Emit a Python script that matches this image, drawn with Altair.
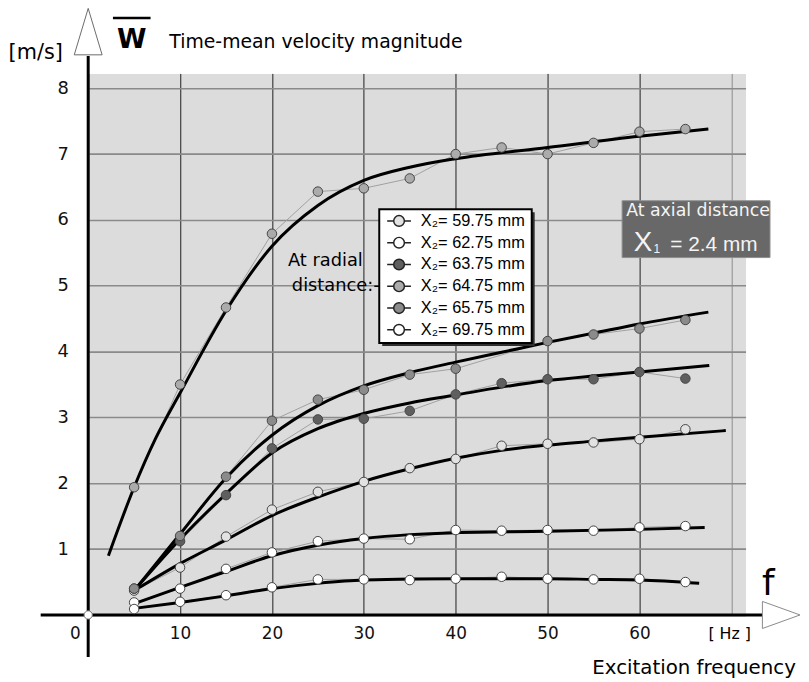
import altair as alt
import pandas as pd

# ---------------- data ----------------
FREQ = [5, 10, 15, 20, 25, 30, 35, 40, 45, 50, 55, 60, 65]

LABELS = ["X₂= 59.75 mm", "X₂= 62.75 mm", "X₂= 63.75 mm",
          "X₂= 64.75 mm", "X₂= 65.75 mm", "X₂= 69.75 mm"]
FILLS = ["#e2e2e2", "#ffffff", "#5f5f5f", "#ababab", "#8b8b8b", "#ffffff"]

W_5975 = [0.37, 0.72, 1.19, 1.60, 1.87, 2.02, 2.23, 2.37, 2.57, 2.60, 2.62, 2.67, 2.82]
W_6275 = [0.19, 0.40, 0.70, 0.95, 1.12, 1.16, 1.15, 1.29, 1.28, 1.29, 1.28, 1.33, 1.35]
W_6375 = [0.40, 1.12, 1.82, 2.53, 2.97, 2.98, 3.10, 3.35, 3.52, 3.58, 3.58, 3.69, 3.59]
W_6475 = [1.94, 3.50, 4.67, 5.79, 6.43, 6.48, 6.63, 7.00, 7.10, 7.00, 7.17, 7.34, 7.38]
W_6575 = [0.40, 1.20, 2.10, 2.95, 3.27, 3.42, 3.65, 3.74, None, 4.16, 4.26, 4.35, 4.48]
W_6975 = [0.09, 0.20, 0.30, 0.42, 0.54, 0.54, 0.53, 0.55, 0.58, 0.55, 0.54, 0.55, 0.50]

# fitted (thick black) curves
FIT_6475_F = [2.2, 5, 7.3, 10, 15, 20, 25, 30, 35, 40, 50, 60, 67.5]
FIT_6475_W = [0.90, 1.94, 2.67, 3.37, 4.62, 5.60, 6.22, 6.60, 6.80, 6.93, 7.10, 7.27, 7.38]
FIT_6575_F = [5, 10, 15, 20, 25, 30, 35, 40, 45, 50, 55, 60, 67.5]
FIT_6575_W = [0.37, 1.23, 2.08, 2.73, 3.18, 3.48, 3.68, 3.84, 3.99, 4.14, 4.28, 4.42, 4.60]
FIT_6375_F = [5, 10, 15, 20, 25, 30, 35, 40, 45, 50, 55, 60, 67.6]
FIT_6375_W = [0.37, 1.15, 1.84, 2.46, 2.83, 3.06, 3.22, 3.34, 3.46, 3.56, 3.63, 3.69, 3.79]
FIT_5975_F = [5, 10, 15, 20, 25, 30, 35, 40, 45, 50, 55, 60, 69.4]
FIT_5975_W = [0.37, 0.78, 1.14, 1.51, 1.79, 2.03, 2.22, 2.38, 2.50, 2.58, 2.64, 2.70, 2.80]
FIT_6275_F = [5, 10, 15, 20, 25, 30, 35, 40, 50, 60, 67.1]
FIT_6275_W = [0.17, 0.42, 0.66, 0.90, 1.06, 1.16, 1.22, 1.25, 1.27, 1.30, 1.33]
FIT_6975_F = [5, 10, 15, 20, 25, 30, 40, 50, 55, 60, 66.5]
FIT_6975_W = [0.10, 0.19, 0.29, 0.40, 0.48, 0.53, 0.55, 0.55, 0.54, 0.53, 0.48]

X_TICKS = [0, 10, 20, 30, 40, 50, 60, 70]
Y_TICKS = [0, 1, 2, 3, 4, 5, 6, 7, 8]

# ---------------- tables ----------------
series_vals = [W_5975, W_6275, W_6375, W_6475, W_6575, W_6975]
obs_rows = []
for lab, vals in zip(LABELS, series_vals):
    for f, w in zip(FREQ, vals):
        if w is not None:
            obs_rows.append({"series": lab, "f": f, "w": w})
obs = pd.DataFrame(obs_rows)

fits = [(FIT_5975_F, FIT_5975_W), (FIT_6275_F, FIT_6275_W), (FIT_6375_F, FIT_6375_W),
        (FIT_6475_F, FIT_6475_W), (FIT_6575_F, FIT_6575_W), (FIT_6975_F, FIT_6975_W)]
fit_rows = []
for lab, (fs, ws) in zip(LABELS, fits):
    for f, w in zip(fs, ws):
        fit_rows.append({"series": lab, "f": f, "w": w})
fit = pd.DataFrame(fit_rows)

# ---------------- scales & axes ----------------
XS = alt.Scale(domain=[0, 71.55], nice=False, zero=False)
YS = alt.Scale(domain=[0, 8.225], nice=False, zero=False)

FONT = "DejaVu Sans"

AX = alt.Axis(values=X_TICKS, title=None, domain=False, ticks=False, grid=True,
              gridColor={"condition": {"test": "datum.value == 70", "value": "#8c8c8c"},
                         "value": "#1e1e1e"},
              gridWidth=1,
              labelExpr="datum.value == 70 ? '' : datum.label",
              labelFont=FONT, labelFontSize=17, labelColor="#111",
              labelPadding=11,
              labelOffset={"condition": {"test": "datum.value == 0", "value": -19},
                           "value": 0})
AY = alt.Axis(values=Y_TICKS, title=None, domain=False, ticks=False, grid=True,
              gridColor="#8a8a8a", gridWidth=1.6,
              labelExpr="datum.value == 0 ? '' : datum.label",
              labelFont=FONT, labelFontSize=18, labelColor="#111",
              labelPadding=20)


def X(field):
    return alt.X(field, type="quantitative", scale=XS, axis=AX)


def Y(field):
    return alt.Y(field, type="quantitative", scale=YS, axis=AY)


one = pd.DataFrame({"a": [0]})

# thin grey lines joining the measured points
joins = alt.Chart(obs).mark_line(color="#a0a0a0", strokeWidth=1).encode(
    x=X("f"), y=Y("w"), detail="series:N")

# thick black fitted curves
curves = alt.Chart(fit).mark_line(color="black", strokeWidth=3,
                                  interpolate="monotone").encode(
    x=X("f"), y=Y("w"), detail="series:N")

# axis lines (extend beyond the plot area like the reference)
xaxis_line = alt.Chart(pd.DataFrame({"f": [-5.17], "f2": [73.4], "w": [0.0]})).mark_rule(
    color="black", strokeWidth=3).encode(x=X("f"), x2="f2", y=Y("w"))
yaxis_line = alt.Chart(pd.DataFrame({"f": [0.0], "w": [-0.64], "w2": [8.49]})).mark_rule(
    color="black", strokeWidth=3).encode(x=X("f"), y=Y("w"), y2="w2")

UP = "M0,-1L0.6,1L-0.6,1Z"
RIGHT = "M1,0L-1,-0.72L-1,0.72Z"
y_arrow = alt.Chart(pd.DataFrame({"f": [0.0], "w": [8.86]})).mark_point(
    shape=UP, size=2200, filled=True, fill="white", stroke="#6a6a6a",
    strokeWidth=1, opacity=1).encode(x=X("f"), y=Y("w"))
x_arrow = alt.Chart(pd.DataFrame({"f": [75.43], "w": [0.0]})).mark_point(
    shape=RIGHT, size=1444, filled=True, fill="white", stroke="#8a8a8a",
    strokeWidth=1, opacity=1).encode(x=X("f"), y=Y("w"))
origin = alt.Chart(pd.DataFrame({"f": [0.0], "w": [0.0]})).mark_point(
    shape="circle", size=70, filled=True, fill="white", stroke="#777",
    strokeWidth=1, opacity=1).encode(x=X("f"), y=Y("w"))

SYM = ("M-1,0L-0.45,0M0.45,0L1,0M-0.45,0A0.45,0.45,0,1,1,0.45,0"
       "A0.45,0.45,0,1,1,-0.45,0Z")

points = alt.Chart(obs).mark_circle(size=92, stroke="#444", strokeWidth=1,
                                    opacity=1).encode(
    x=X("f"), y=Y("w"),
    fill=alt.Fill("series:N", scale=alt.Scale(domain=LABELS, range=FILLS),
                  legend=alt.Legend(title=None, orient="none", legendX=301,
                                    legendY=136, fillColor="transparent",
                                    strokeColor="transparent", padding=0,
                                    labelFont="Liberation Sans", labelFontSize=16.5,
                                    labelColor="black", symbolType=SYM,
                                    symbolSize=576, symbolStrokeColor="#222",
                                    symbolStrokeWidth=1.5, rowPadding=0,
                                    labelOffset=9, symbolOpacity=1)))

# legend frame with drop shadow
legend_shadow = alt.Chart(one).mark_rect(color="#2e2e2e").encode(
    x=alt.value(297), x2=alt.value(451), y=alt.value(140.3), y2=alt.value(275.3))
legend_box = alt.Chart(one).mark_rect(color="white", stroke="black",
                                      strokeWidth=2).encode(
    x=alt.value(294), x2=alt.value(448), y=alt.value(137.3), y2=alt.value(272.3))


def txt(s, x, y, size, align="left", baseline="alphabetic", color="black",
        font=FONT, weight="normal"):
    return alt.Chart(one).mark_text(text=s, align=align, baseline=baseline,
                                    fontSize=size, font=font, color=color,
                                    fontWeight=weight).encode(
        x=alt.value(x), y=alt.value(y))


unit = txt("[m/s]", -53, -20.7, 21, align="center", baseline="middle")
wbar = txt("W", 44, -25.7, 27, align="center", weight="bold")
overline = alt.Chart(one).mark_rule(color="black", strokeWidth=2.5).encode(
    x=alt.value(25), x2=alt.value(63), y=alt.value(-56))
title = txt("Time-mean velocity magnitude", 82, -25.7, 19)

radial1 = txt("At radial", 201.7, 189.3, 18, baseline="middle")
radial2 = txt("distance:", 288, 214.3, 18, align="right", baseline="middle")
dash = alt.Chart(one).mark_rule(color="black", strokeWidth=1.5).encode(
    x=alt.value(289), x2=alt.value(294), y=alt.value(215))

box = alt.Chart(one).mark_rect(color="#686868", stroke="#8e8e8e",
                               strokeWidth=1).encode(
    x=alt.value(539.3), x2=alt.value(688.7), y=alt.value(128.6), y2=alt.value(186))
axial1 = txt("At axial distance", 616, 139.3, 17.5, align="center",
             baseline="middle", color="#f4f4f4")
axial2 = txt("X", 551, 179.3, 28, color="#f4f4f4", font="Liberation Sans")
axial3 = txt("1", 571, 181, 12, color="#f4f4f4", font="Liberation Sans")
axial4 = txt("= 2.4 mm", 588, 179.3, 21, color="#f4f4f4", font="Liberation Sans")

f_lab = txt("f", 687, 527.3, 36, align="center")
hz_lab = txt("[ Hz ]", 648, 566.3, 16, align="center", baseline="middle")
xtitle = txt("Excitation frequency", 612, 606.3, 20, align="center")

chart = alt.layer(
    joins, curves, xaxis_line, yaxis_line, y_arrow, x_arrow, origin, points,
    legend_shadow, legend_box, unit, wbar, overline, title, radial1, radial2,
    dash, box, axial1, axial2, axial3, axial4, f_lab, hz_lab, xtitle
).properties(
    width=664, height=547,
    padding={"left": 81, "top": 62.7, "right": 56, "bottom": 62},
    autosize=alt.AutoSizeParams(type="none"),
    background="white",
).configure_view(fill="#dcdcdc", stroke="transparent")

chart.save("out.html", embed_options={"renderer": "svg", "actions": False})
